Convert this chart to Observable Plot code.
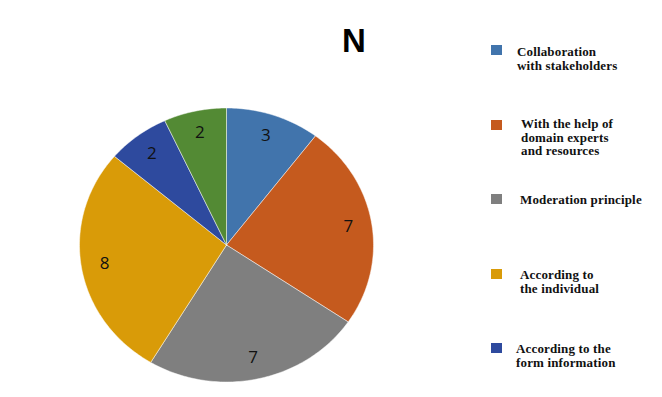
<!DOCTYPE html>
<html>
<head>
<meta charset="utf-8">
<script src="https://cdn.jsdelivr.net/npm/d3@7"></script>
<script src="https://cdn.jsdelivr.net/npm/@observablehq/plot@0.6"></script>
<style>
  html, body { margin: 0; padding: 0; background: #fff; }
  #wrap { position: relative; width: 662px; height: 397px; overflow: hidden; }
  #title { position: absolute; left: 0; top: 22px; width: 708px; text-align: center;
           font: bold 33px "Liberation Sans", Arial, sans-serif; color: #000; }
  .leg { position: absolute; font: bold 13px "Liberation Serif", "Times New Roman", serif;
         color: #111; line-height: 13.5px; white-space: nowrap; letter-spacing: 0.15px; }
  .sw { position: absolute; width: 11px; height: 10px; }
</style>
</head>
<body>
<div id="wrap"></div>
<script>
// ---- data ----
const categories = [
  "Collaboration with stakeholders",
  "With the help of domain experts and resources",
  "Moderation principle",
  "According to the individual",
  "According to the form information",
  "Other"
];
const values = [3, 7, 7, 8, 2, 2];
const colors = ["#4174AC", "#C55A1E", "#7F7F7F", "#D99B08", "#2E4A9E", "#538A34"];
const legendLines = [
  ["Collaboration", "with stakeholders"],
  ["With the help of", "domain experts", "and resources"],
  ["Moderation principle"],
  ["According to", "the individual"],
  ["According to the", "form information"]
];
const titleText = "N";

// ---- layout (style constants) ----
const W = 662, H = 397;
const cx = 226, cy = 244.5, rx = 147, ry = 137;
const labelRadius = 0.84;
const legendLayout = [
  {sy: 45, tx: 517, ty: 45},
  {sy: 120, tx: 521, ty: 117},
  {sy: 194, tx: 520, ty: 193},
  {sy: 269, tx: 520, ty: 268},
  {sy: 343, tx: 516, ty: 342}
];

// ---- build slices via d3.pie ----
const rows = categories.map((c, i) => ({cat: c, value: values[i], color: colors[i]}));
const arcs = d3.pie().value(d => d.value).sort(null)(rows);
const poly = [];
const labels = [];
arcs.forEach((a, i) => {
  const n = Math.max(4, Math.ceil((a.endAngle - a.startAngle) * 60));
  poly.push({k: i, x: 0, y: 0, cat: a.data.cat});
  for (let j = 0; j <= n; j++) {
    const t = a.startAngle + (a.endAngle - a.startAngle) * j / n;
    poly.push({k: i, x: Math.sin(t), y: Math.cos(t), cat: a.data.cat});
  }
  poly.push({k: i, x: 0, y: 0, cat: a.data.cat});
  const m = (a.startAngle + a.endAngle) / 2;
  labels.push({x: labelRadius * Math.sin(m), y: labelRadius * Math.cos(m), v: a.data.value});
});

const chart = Plot.plot({
  width: W, height: H,
  margin: 0,
  x: {domain: [-1, 1], range: [cx - rx, cx + rx], axis: null},
  y: {domain: [-1, 1], range: [cy + ry, cy - ry], axis: null},
  color: {domain: categories, range: colors},
  style: {background: "transparent", overflow: "visible"},
  marks: [
    Plot.line(poly, {x: "x", y: "y", z: "k", fill: "cat", stroke: "#ffffff",
      strokeWidth: 0.8, strokeOpacity: 0.6, curve: "linear-closed"}),
    Plot.text(labels, {x: "x", y: "y", text: d => String(d.v), fill: "#111",
      fontSize: 17, fontFamily: "Open Sans, Noto Sans, sans-serif"})
  ]
});
chart.style.position = "absolute";
chart.style.left = "0px";
chart.style.top = "0px";

const wrap = document.getElementById("wrap");
wrap.appendChild(chart);

const title = document.createElement("div");
title.id = "title";
title.textContent = titleText;
wrap.appendChild(title);

legendLines.forEach((lines, i) => {
  const L = legendLayout[i];
  const sw = document.createElement("div");
  sw.className = "sw";
  sw.style.left = "491px";
  sw.style.top = L.sy + "px";
  sw.style.background = colors[i];
  wrap.appendChild(sw);
  const t = document.createElement("div");
  t.className = "leg";
  t.style.left = L.tx + "px";
  t.style.top = L.ty + "px";
  t.innerHTML = lines.map(s => s.replace(/&/g, "&amp;")).join("<br>");
  wrap.appendChild(t);
});
</script>
</body>
</html>
